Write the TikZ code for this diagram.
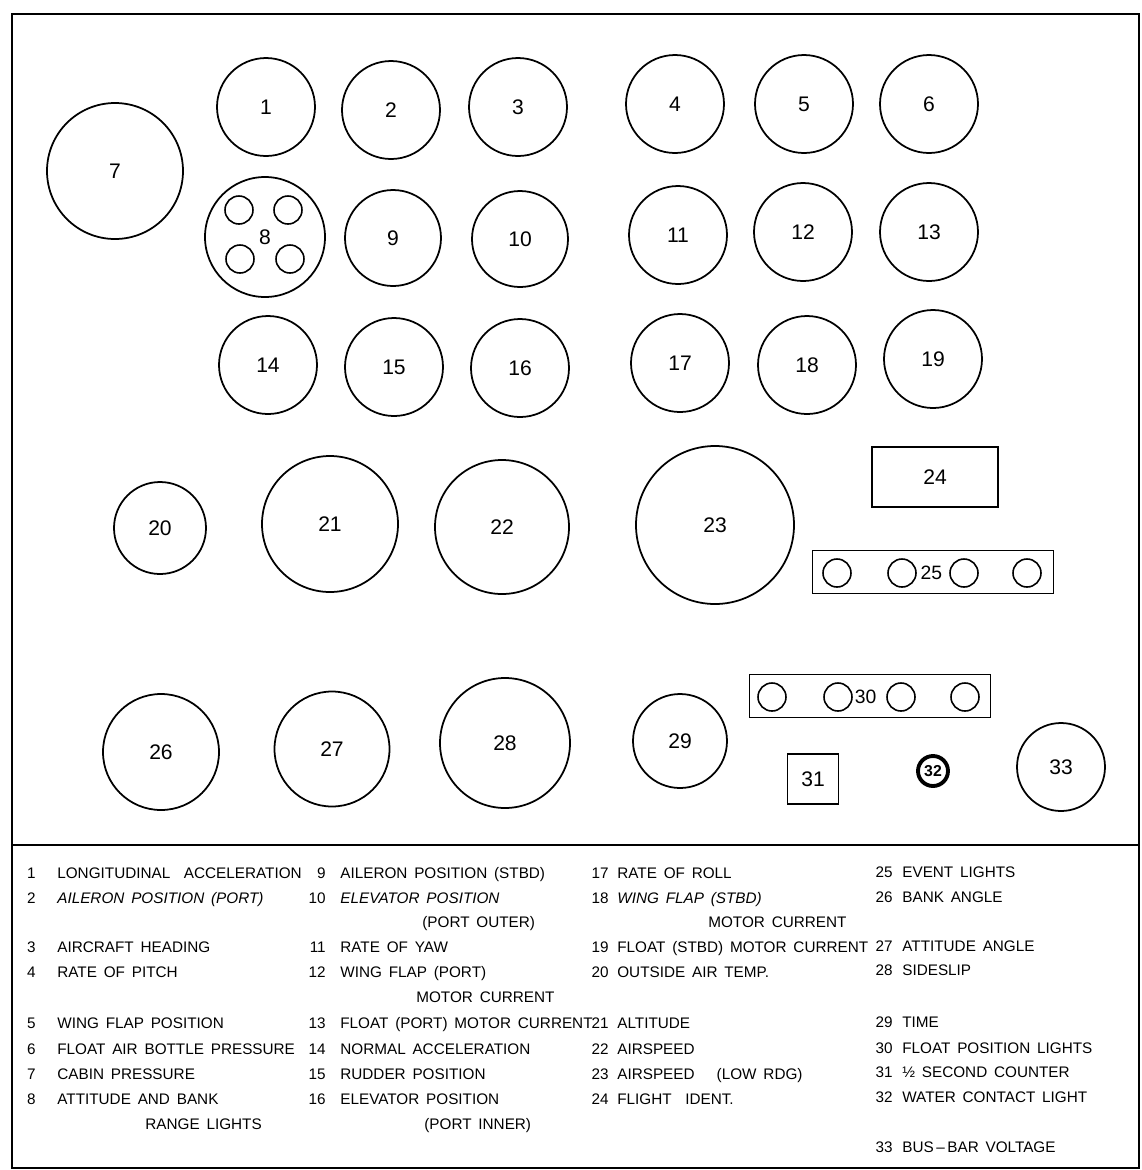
\documentclass[tikz,border=0pt]{standalone}
\usepackage{fontspec}
\setmainfont{Liberation Sans}[WordSpace=1.6]
\usetikzlibrary{positioning}

\begin{document}
\begin{tikzpicture}[x=0.2mm,y=-0.2mm, every node/.style={inner sep=0pt}]
\tikzset{gauge/.style={circle,draw,line width=1pt,minimum size=#1*0.2mm,font=\fontsize{12}{12}\selectfont},
  lamp/.style={circle,draw,line width=0.9pt,minimum size=28*0.2mm},
  strip/.style={draw,line width=0.9pt,minimum width=241*0.2mm,minimum height=43*0.2mm},
  frame/.style={line width=1.5pt},
  keynum/.style={anchor=base east,yshift=-1.1mm,font=\fontsize{8.7}{9}\selectfont},
  keytxt/.style={anchor=base west,yshift=-1.1mm,font=\fontsize{8.7}{9}\selectfont}}
\useasboundingbox (0,0) rectangle (1142,1170);

% panel outline and divider
\draw[frame] (12,14) rectangle (1139,1168);
\draw[frame] (12,845) -- (1139,845);

% instruments
\foreach \n/\x/\y/\d in {1/266/107/98, 2/391/110/98, 3/518/107/98, 4/675/104/98, 5/804/104/98, 6/929/104/98,
  7/115/171/136, 9/393/238/96, 10/520/239/96, 11/678/235/98, 12/803/232/98, 13/929/232/98,
  14/268/365/98, 15/394/367/98, 16/520/368/98, 17/680/363/98, 18/807/365/98, 19/933/359/98,
  20/160/528/92, 21/330/524/136, 22/502/527/134, 23/715/525/158,
  26/161/752/116, 27/332/749/115, 28/505/743/130, 29/680/741/94, 33/1061/767/88}
  \node[gauge=\d] (g\n) at (\x,\y) {\n};

% attitude and bank range lights
\node[gauge=120] (g8) at (265,237) {8};
\node[lamp] (l8a) at (239,210) {};
\node[lamp] (l8b) at (288,210) {};
\node[lamp] (l8c) at (240,259) {};
\node[lamp] (l8d) at (290,259) {};

% flight ident and counter
\node[draw,line width=0.9pt,minimum width=126*0.2mm,minimum height=60*0.2mm,font=\fontsize{12}{12}\selectfont] (g24) at (935,477) {24};
\node[draw,line width=0.9pt,minimum width=51*0.2mm,minimum height=50*0.2mm,font=\fontsize{12}{12}\selectfont] (g31) at (813,779) {31};
\node[circle,draw,line width=2.2pt,minimum size=30*0.2mm,font=\bfseries\fontsize{9}{9}\selectfont] (g32) at (933,771) {32};

% event lights
\node[strip] (s25) at (933,572) {};
\foreach \i/\x in {a/837, b/902, c/964, d/1027}
  \node[lamp] (l25\i) at (\x,573) {};
\node[right=2pt of l25b,font=\fontsize{11}{11}\selectfont] (t25) {25};

% float position lights
\node[strip] (s30) at (870,696) {};
\foreach \i/\x in {a/772, b/838, c/901, d/965}
  \node[lamp] (l30\i) at (\x,697) {};
\node[right=1pt of l30b,font=\fontsize{11}{11}\selectfont] (t30) {30};

% key
\foreach \n/\y/\t in {1/873/LONGITUDINAL \ ACCELERATION, 2/898/{\itshape AILERON POSITION (PORT)},
  3/947/AIRCRAFT HEADING, 4/972/RATE OF PITCH, 5/1023/WING FLAP POSITION,
  6/1049/FLOAT AIR BOTTLE PRESSURE, 7/1074/CABIN PRESSURE, 8/1099/ATTITUDE AND BANK}
  {\node[keynum] (k\n) at (36,\y) {\n}; \node[keytxt] (t\n) at (57,\y) {\t};}
\node[keytxt] (t8b) at (145,1124) {RANGE LIGHTS};

\foreach \n/\y/\t in {9/873/AILERON POSITION (STBD), 10/898/{\itshape ELEVATOR POSITION},
  11/947/RATE OF YAW, 12/972/WING FLAP (PORT), 13/1023/FLOAT (PORT) MOTOR CURRENT,
  14/1049/NORMAL ACCELERATION, 15/1074/RUDDER POSITION, 16/1099/ELEVATOR POSITION}
  {\node[keynum] (k\n) at (326,\y) {\n}; \node[keytxt] (t\n) at (340,\y) {\t};}
\node[keytxt] (t10b) at (422,922) {(PORT OUTER)};
\node[keytxt] (t12b) at (416,997) {MOTOR CURRENT};
\node[keytxt] (t16b) at (424,1124) {(PORT INNER)};

\foreach \n/\y/\t in {17/873/RATE OF ROLL, 18/898/{\itshape WING FLAP (STBD)},
  19/947/FLOAT (STBD) MOTOR CURRENT, 20/972/OUTSIDE AIR TEMP., 21/1023/ALTITUDE,
  22/1049/AIRSPEED, 23/1074/AIRSPEED \quad (LOW RDG), 24/1099/FLIGHT \ IDENT.}
  {\node[keynum] (k\n) at (609,\y) {\n}; \node[keytxt] (t\n) at (617,\y) {\t};}
\node[keytxt] (t18b) at (708,922) {MOTOR CURRENT};

\foreach \n/\y/\t in {25/872/EVENT LIGHTS, 26/897/BANK ANGLE, 27/946/ATTITUDE ANGLE,
  28/970/SIDESLIP, 29/1022/TIME, 30/1048/FLOAT POSITION LIGHTS,
  31/1072/½ SECOND COUNTER, 32/1097/WATER CONTACT LIGHT, 33/1147/BUS\,–\,BAR VOLTAGE}
  {\node[keynum] (k\n) at (893,\y) {\n}; \node[keytxt] (t\n) at (902,\y) {\t};}
\end{tikzpicture}
\end{document}
